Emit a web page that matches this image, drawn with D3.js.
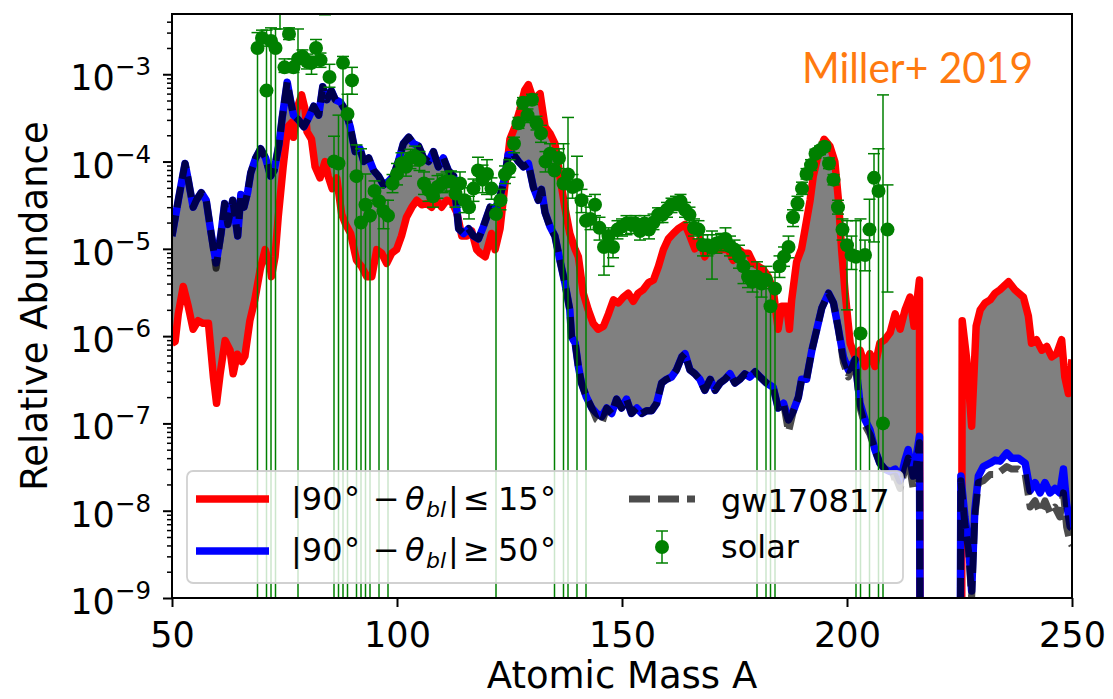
<!DOCTYPE html>
<html><head><meta charset="utf-8">
<script src="https://cdn.jsdelivr.net/npm/d3@7"></script>
<style>body{margin:0;background:#fff}</style>
</head><body>
<svg id="chart" width="1113" height="699"></svg>
<script>
// ---------------- DATA ----------------
const redA = [50.0,50.7,51.4,52.5,53.6,54.7,55.8,56.9,58.1,59.2,59.9,60.7,61.8,62.9,63.6,64.5,65.5,66.2,67.3,68.4,69.6,70.7,71.8,72.1,72.9,73.6,74.7,75.7,76.6,77.0,77.7,78.8,79.6,80.0,81.0,81.8,82.9,84.0,84.7,85.6,86.6,87.7,88.6,89.7,91.0,92.1,93.3,94.4,95.5,96.6,97.7,98.8,99.9,101.0,102.1,103.3,104.4,105.5,106.6,107.7,108.8,109.9,111.0,112.1,113.3,114.4,115.5,116.6,117.7,118.5,119.6,121.0,121.8,122.9,124.0,125.1,126.2,127.3,128.4,129.2,130.3,131.8,132.9,134.0,135.1,136.2,137.3,138.4,139.6,140.3,141.4,142.5,143.6,144.7,145.9,147.0,148.1,149.2,150.3,151.4,152.5,153.6,154.7,155.9,157.0,158.1,159.2,160.3,161.4,162.5,164.0,165.1,166.2,167.3,168.4,169.2,170.3,171.4,172.5,173.6,174.7,175.9,177.0,178.1,179.2,180.3,181.4,182.5,183.6,184.7,185.5,186.6,187.2,187.7,188.8,189.9,190.7,191.8,192.5,193.6,194.9,196.2,197.3,198.1,198.8,199.6,200.7,201.8,202.9,204.0,205.1,206.2,207.3,208.4,209.6,210.7,211.8,212.9,214.0,214.9,216.1,216.3,220,225.4,225.6,226.6,227.7,228.7,229.6,230.7,231.8,232.9,234.0,235.9,237.3,239.2,240.3,241.0,242.1,243.3,244.4,245.5,246.6,247.7,248.4,249.2,250.0];
const redVals = [8.3e-7,8.7e-7,1.8e-6,3.7e-6,2.2e-6,1.2e-6,1.5e-6,1.4e-6,1.4e-6,3.4e-7,1.7e-7,3.7e-7,8.9e-7,6.9e-7,3.7e-7,6.2e-7,5.1e-7,5.9e-7,1.5e-6,2.6e-6,5.8e-6,9.8e-6,6.3e-6,4.8e-6,8.1e-6,2.3e-5,8.7e-5,2.5e-4,2.8e-4,1.9e-4,3.9e-4,5.8e-4,3.9e-4,2.2e-4,1.8e-4,8.7e-5,6.5e-5,1.0e-4,6.8e-5,4.9e-5,6.5e-5,2.5e-5,1.9e-5,1.5e-5,7.4e-6,6.3e-6,4.8e-6,4.8e-6,9.8e-6,8.9e-6,6.8e-6,8.9e-6,9.8e-6,1.4e-5,2.3e-5,3.0e-5,3.6e-5,3.2e-5,3.3e-5,3.0e-5,3.6e-5,3.0e-5,3.6e-5,3.5e-5,2.6e-5,1.4e-5,1.4e-5,1.6e-5,9.8e-6,8.9e-6,8.1e-6,1.5e-5,9.8e-6,1.7e-5,5.6e-5,1.8e-4,2.5e-4,3.9e-4,6.6e-4,7.6e-4,5.1e-4,6.0e-4,2.5e-4,2.1e-4,1.6e-4,6.8e-5,3.0e-5,1.5e-5,9.8e-6,8.1e-6,3.1e-6,2.0e-6,1.4e-6,1.2e-6,1.3e-6,1.8e-6,2.6e-6,2.4e-6,2.8e-6,3.1e-6,2.5e-6,3.1e-6,3.4e-6,4.1e-6,4.4e-6,6.3e-6,9.8e-6,1.3e-5,1.5e-5,1.7e-5,1.9e-5,1.4e-5,1.0e-5,1.3e-5,8.1e-6,1.0e-5,1.0e-5,9.8e-6,9.8e-6,9.8e-6,7.4e-6,9.8e-6,8.9e-6,8.9e-6,6.8e-6,6.3e-6,5.8e-6,4.8e-6,3.4e-6,1.2e-6,2.2e-6,2.2e-6,1.2e-6,2.6e-6,7.1e-6,1.0e-5,1.7e-5,3.6e-5,6.8e-5,1.2e-4,1.8e-4,1.5e-4,1.0e-4,3.6e-5,9.8e-6,3.1e-6,8.3e-7,5.8e-7,6.9e-7,4.5e-7,6.3e-7,4.5e-7,8.3e-7,9.1e-7,1.1e-6,1.8e-6,1.2e-6,2.0e-6,2.8e-6,1.3e-6,4.4e-6,1e-12,null,1e-12,1.5e-6,5.4e-7,9.3e-8,1.3e-6,2.0e-6,2.4e-6,2.6e-6,3.1e-6,3.4e-6,4.2e-6,3.4e-6,2.8e-6,1.7e-6,8.3e-7,9.1e-7,6.9e-7,7.6e-7,5.8e-7,6.3e-7,9.1e-7,3.4e-7,2.2e-7,5.4e-7];

const blueA = [50,51.4,52.9,53.6,54.7,55.4,56.5,57.6,58.7,59.8,60.9,61.7,62.4,63.5,64.6,65.3,66.0,66.8,67.5,68.6,69.7,70.8,71.9,72.7,73.8,74.5,75.6,76.3,77.0,78.1,79.3,80.4,81.5,82.6,83.5,84.4,85.4,86.3,87.4,88.5,89.6,90.7,91.8,92.6,93.7,94.8,95.9,97.0,98.1,99.2,100.3,101.4,102.6,103.7,104.8,105.9,107.0,108.1,109.2,110.3,111.4,112.6,113.7,114.8,115.9,117.0,118.1,119.2,120.7,121.8,122.9,124.0,124.7,125.9,127.0,128.1,129.2,130.3,131.4,132.1,132.9,134.0,135.1,136.2,137.3,138.4,138.8,139.6,140.3,141.0,142.1,143.3,144.4,145.5,146.6,147.7,148.8,149.9,151.0,152.1,153.3,154.4,155.5,156.6,157.7,158.8,159.9,161.0,162.1,163.3,164.0,165.1,166.2,167.3,168.4,169.6,170.7,171.8,172.9,174.0,175.1,176.2,177.3,178.4,179.6,180.7,182.1,183.6,184.7,185.9,187.0,188.1,189.2,189.9,191.0,192.2,193.3,194.4,195.9,197.0,198.1,199.2,200.3,201.8,202.9,204.0,205.1,206.2,207.3,208.4,209.6,210.7,211.8,212.9,213.6,214.7,216.1,216.4,220,225.0,225.3,226.2,227.0,227.7,228.4,229.2,230.3,231.8,232.9,234.0,235.5,236.6,238.1,239.6,240.7,241.8,242.9,244.0,245.1,246.2,247.3,248.1,248.8,249.6,250];
const blueVals = [1.4e-5,3.6e-5,9.5e-5,6.2e-5,3.0e-5,3.6e-5,4.4e-5,3.6e-5,1.5e-5,6.9e-6,1.5e-5,3.3e-5,1.9e-5,3.6e-5,1.4e-5,4.2e-5,3.0e-5,4.4e-5,7.4e-5,1.1e-4,1.4e-4,1.1e-4,6.8e-5,7.9e-5,1.6e-4,3.2e-4,8.1e-4,5.1e-4,3.4e-4,3.0e-4,2.5e-4,3.2e-4,4.3e-4,3.4e-4,7.2e-4,5.1e-4,6.5e-4,5.1e-4,4.8e-4,3.9e-4,2.5e-4,1.3e-4,1.4e-4,1.0e-4,1.1e-4,7.9e-5,6.8e-5,5.4e-5,5.9e-5,6.8e-5,1.0e-4,1.6e-4,1.9e-4,1.6e-4,1.5e-4,1.1e-4,1.0e-4,1.3e-4,8.7e-5,1.1e-4,7.9e-5,6.8e-5,1.7e-5,1.5e-5,1.7e-5,1.4e-5,1.3e-5,1.8e-5,3.0e-5,2.8e-5,4.0e-5,6.8e-5,1.2e-4,1.2e-4,1.0e-4,8.7e-5,9.5e-5,5.1e-5,3.6e-5,4.8e-5,2.6e-5,1.8e-5,1.4e-5,7.4e-6,4.1e-6,2.0e-6,9.8e-7,8.3e-7,4.5e-7,2.9e-7,2.0e-7,1.5e-7,1.3e-7,1.2e-7,1.5e-7,1.3e-7,1.9e-7,1.5e-7,1.9e-7,1.3e-7,1.5e-7,1.3e-7,1.4e-7,1.4e-7,1.7e-7,2.9e-7,3.2e-7,3.4e-7,4.1e-7,5.8e-7,6.3e-7,4.1e-7,3.7e-7,3.2e-7,2.4e-7,3.2e-7,2.4e-7,2.9e-7,3.2e-7,3.7e-7,2.9e-7,3.2e-7,3.7e-7,3.4e-7,3.9e-7,3.4e-7,2.9e-7,2.6e-7,1.5e-7,1.7e-7,1.1e-7,1.4e-7,2.0e-7,3.2e-7,3.2e-7,6.9e-7,1.2e-6,2.1e-6,3.1e-6,2.4e-6,1.2e-6,5.8e-7,4.1e-7,5.4e-7,1.7e-7,1.1e-7,8.5e-8,5.0e-8,3.5e-8,3.0e-8,2.8e-8,3.0e-8,2.2e-8,3.8e-8,5.0e-8,2.5e-8,7.1e-8,1e-12,null,1e-12,2.5e-8,8.5e-9,4.3e-9,1.2e-9,1.0e-8,2.5e-8,3.2e-8,3.5e-8,3.8e-8,3.7e-8,4.6e-8,4.0e-8,4.0e-8,3.5e-8,1.7e-8,2.1e-8,1.6e-8,2.1e-8,1.6e-8,1.8e-8,1.6e-8,3.0e-8,1.2e-8,6.6e-9,6.3e-9];
const gwVals = [1.4e-5,3.6e-5,9.5e-5,6.2e-5,3.0e-5,3.6e-5,4.4e-5,3.6e-5,1.5e-5,6.0e-6,1.5e-5,3.3e-5,1.9e-5,3.6e-5,1.4e-5,4.2e-5,3.0e-5,4.4e-5,7.4e-5,1.1e-4,1.4e-4,1.1e-4,6.8e-5,7.9e-5,1.6e-4,3.2e-4,8.1e-4,5.1e-4,3.4e-4,3.0e-4,2.5e-4,3.2e-4,4.3e-4,3.4e-4,7.2e-4,5.1e-4,6.5e-4,5.1e-4,4.8e-4,3.9e-4,2.5e-4,1.3e-4,1.4e-4,1.0e-4,1.1e-4,7.9e-5,6.8e-5,5.4e-5,5.9e-5,6.8e-5,1.0e-4,1.6e-4,1.9e-4,1.6e-4,1.5e-4,1.1e-4,1.0e-4,1.3e-4,8.7e-5,1.1e-4,7.9e-5,6.8e-5,1.7e-5,1.5e-5,1.7e-5,1.4e-5,1.3e-5,1.8e-5,3.0e-5,2.8e-5,4.0e-5,6.8e-5,1.2e-4,1.2e-4,1.0e-4,8.7e-5,9.5e-5,5.1e-5,3.6e-5,4.8e-5,2.6e-5,1.8e-5,1.4e-5,7.4e-6,4.1e-6,2.0e-6,9.8e-7,8.3e-7,4.5e-7,2.9e-7,2.0e-7,1.5e-7,1.1e-7,1.0e-7,1.5e-7,1.3e-7,1.9e-7,1.5e-7,1.9e-7,1.3e-7,1.5e-7,1.3e-7,1.4e-7,1.4e-7,1.7e-7,2.9e-7,3.2e-7,3.4e-7,4.1e-7,5.8e-7,6.3e-7,4.1e-7,3.7e-7,3.2e-7,2.4e-7,3.2e-7,2.4e-7,2.9e-7,3.2e-7,3.7e-7,2.9e-7,3.2e-7,3.7e-7,3.4e-7,3.9e-7,3.4e-7,2.9e-7,2.6e-7,1.5e-7,1.7e-7,8.0e-8,1.4e-7,2.0e-7,3.2e-7,3.2e-7,6.9e-7,1.2e-6,2.1e-6,3.1e-6,2.4e-6,1.2e-6,5.0e-7,3.4e-7,5.4e-7,1.5e-7,9.5e-8,7.5e-8,5.0e-8,3.5e-8,3.0e-8,2.4e-8,2.5e-8,1.8e-8,3.0e-8,4.0e-8,1.8e-8,6.0e-8,1e-12,null,1e-12,2.2e-8,7.0e-9,3.5e-9,1.0e-9,8.5e-9,2.1e-8,2.2e-8,2.6e-8,2.6e-8,2.8e-8,3.2e-8,3.0e-8,3.0e-8,2.6e-8,1.1e-8,1.3e-8,9.5e-9,1.3e-8,9.5e-9,1.1e-8,8.5e-9,1.6e-8,6.5e-9,4.3e-9,4.0e-9];

const solarA = [69,70,71,72,73,74,75,76,77,78,79,80,81,82,83,84,85,86,87,88,89,90,91,92,93,94,95,96,97,98,99,100,101,102,103,104,105,106,107,108,109,110,111,112,113,114,115,116,117,118,119,120,121,122,123,124,125,126,127,128,129,130,131,132,133,134,135,136,137,138,139,140,141,142,143,144,145,146,147,148,149,150,151,152,153,154,155,156,157,158,159,160,161,162,163,164,165,166,167,168,169,170,171,172,173,174,175,176,177,178,179,180,181,182,183,184,185,186,187,188,189,190,191,192,193,194,195,196,197,198,199,200,201,202,203,204,205,206,207,208,209];
const solarVals = [2.0e-3,2.6e-3,6.5e-4,2.4e-3,2.0e-3,7.9e-3,1.2e-3,2.9e-3,1.2e-3,1.5e-3,1.6e-3,1.4e-3,1.35e-3,2.0e-3,1.45e-3,8.9e-3,9.3e-4,1.0e-4,9.5e-5,1.35e-3,3.5e-4,8.5e-4,6.8e-5,2.0e-5,3.2e-5,2.4e-5,4.6e-5,3.5e-5,2.7e-5,2.4e-5,5.6e-5,7.2e-5,9.5e-5,8.7e-5,1.1e-4,1.15e-4,1.05e-4,5.6e-5,4.7e-5,4.0e-5,5.1e-5,5.6e-5,5.9e-5,5.9e-5,4.3e-5,5.6e-5,3.6e-5,3.0e-5,4.9e-5,7.9e-5,6.2e-5,7.2e-5,4.9e-5,2.5e-5,3.6e-5,7.1e-5,8.3e-5,1.6e-4,2.75e-4,4.7e-4,3.4e-4,5.1e-4,2.75e-4,2.1e-4,1.0e-4,1.23e-4,7.9e-5,1.1e-4,5.6e-5,7.1e-5,5.1e-5,5.4e-5,3.6e-5,2.1e-5,2.2e-5,3.2e-5,1.74e-5,1.05e-5,1.4e-5,1.05e-5,1.66e-5,1.8e-5,1.95e-5,1.9e-5,1.95e-5,1.6e-5,1.95e-5,1.66e-5,2.0e-5,2.45e-5,2.45e-5,2.8e-5,3.2e-5,3.3e-5,3.5e-5,2.8e-5,2.45e-5,1.74e-5,1.66e-5,1.1e-5,1.1e-5,1.02e-5,1.15e-5,1.2e-5,1.3e-5,1.07e-5,9.8e-6,8.1e-6,6.3e-6,4.8e-6,4.2e-6,4.8e-6,4.0e-6,4.4e-6,2.2e-6,3.5e-6,6.3e-6,8.1e-6,1.05e-5,2.3e-5,3.3e-5,4.9e-5,7.2e-5,9.1e-5,1.23e-4,1.35e-4,1.48e-4,9.5e-5,6.2e-5,3.0e-5,1.66e-5,1.1e-5,8.5e-6,8.1e-6,1.07e-6,8.5e-6,1.66e-5,6.5e-5,4.6e-5,1.0e-7,1.66e-5];
const solarHi = [3.0e-3,3.2e-3,3.2e-3,3.4e-3,3.3e-3,1.1e-2,1.5e-3,3.4e-3,1.5e-3,3.3e-3,1.9e-3,1.7e-3,1.6e-3,2.5e-3,1.75e-3,1.3e-2,1.3e-3,1.95e-4,3.4e-4,1.6e-3,5.9e-4,1.2e-3,1.55e-4,1.4e-4,7.2e-5,3.6e-5,6.0e-5,5.0e-5,3.6e-5,3.6e-5,7.1e-5,9.5e-5,1.26e-4,1.12e-4,1.38e-4,1.5e-4,1.3e-4,7.6e-5,6.3e-5,5.0e-5,6.9e-5,7.2e-5,7.6e-5,7.8e-5,6.0e-5,7.6e-5,5.0e-5,4.0e-5,6.3e-5,1.12e-4,9.1e-5,1.05e-4,6.5e-5,3.2e-5,4.8e-5,8.9e-5,1.05e-4,1.9e-4,3.2e-4,5.4e-4,4.0e-4,5.9e-4,3.3e-4,2.6e-4,1.3e-4,1.6e-4,1.2e-4,1.4e-4,1.6e-4,3.2e-4,7.1e-5,1.15e-4,4.8e-5,4.0e-5,3.0e-5,4.2e-5,2.3e-5,1.6e-5,1.74e-5,1.4e-5,2.1e-5,2.2e-5,2.4e-5,2.3e-5,2.4e-5,2.0e-5,2.4e-5,2.1e-5,2.5e-5,2.95e-5,2.95e-5,3.4e-5,3.8e-5,4.0e-5,4.2e-5,3.4e-5,3.0e-5,2.2e-5,2.1e-5,1.45e-5,1.45e-5,1.6e-5,1.45e-5,1.5e-5,1.74e-5,1.4e-5,1.26e-5,1.1e-5,8.3e-6,6.3e-6,5.6e-6,7.1e-6,5.2e-6,6.3e-6,3.5e-6,5.4e-6,8.3e-6,1.05e-5,1.4e-5,2.8e-5,4.0e-5,5.8e-5,8.3e-5,1.05e-4,1.38e-4,1.5e-4,1.66e-4,1.1e-4,7.1e-5,3.6e-5,2.2e-5,2.1e-5,1.4e-5,2.1e-5,2.2e-5,1.26e-5,3.7e-5,1.23e-4,1.4e-4,5.8e-4,5.4e-5];
// lower bound of each error bar; 0 = bar extends below the axis
const solarLo = [0,2.1e-3,0,0,0,3.3e-3,1.05e-3,2.5e-3,1.05e-3,0,1.3e-3,1.15e-3,1.0e-3,1.6e-3,1.2e-3,4.8e-3,7.1e-4,0,0,0,0,5.9e-4,0,0,0,0,3.3e-5,0,1.7e-5,0,4.4e-5,5.4e-5,7.6e-5,6.8e-5,8.3e-5,8.9e-5,7.9e-5,4.2e-5,3.5e-5,3.0e-5,3.8e-5,4.4e-5,4.6e-5,4.5e-5,3.0e-5,4.0e-5,2.6e-5,2.2e-5,3.5e-5,6.0e-5,4.4e-5,4.2e-5,3.7e-5,0,2.8e-5,5.6e-5,6.6e-5,1.26e-4,2.4e-4,4.0e-4,2.8e-4,4.5e-4,2.3e-4,1.66e-4,7.6e-5,9.5e-5,0,8.3e-5,0,0,3.8e-5,0,2.6e-5,0,1.66e-5,2.4e-5,1.26e-5,5.0e-6,6.3e-6,7.9e-6,1.3e-5,1.4e-5,1.45e-5,1.5e-5,1.6e-5,1.26e-5,1.6e-5,1.3e-5,1.66e-5,2.0e-5,2.0e-5,2.3e-5,2.6e-5,2.75e-5,2.9e-5,2.3e-5,2.0e-5,1.4e-5,1.3e-5,8.3e-6,8.3e-6,4.5e-6,8.9e-6,9.5e-6,1.0e-5,8.3e-6,7.6e-6,6.0e-6,4.0e-6,3.6e-6,3.2e-6,0,2.8e-6,0,0,0,4.7e-6,6.3e-6,7.9e-6,1.8e-5,2.75e-5,4.2e-5,6.3e-5,7.9e-5,1.1e-4,1.2e-4,1.32e-4,8.3e-5,5.4e-5,2.5e-5,1.26e-5,2.0e-6,5.8e-6,0,0,5.6e-6,0,1.2e-5,0,0,3.2e-6];

const xTicks = [50, 100, 150, 200, 250];
const yTickExps = [-9, -8, -7, -6, -5, -4, -3];
const legendLabels = ["gw170817", "solar"];

// ---------------- CHART ----------------
const M = {left:172, right:1072, top:14, bottom:598};
const x = d3.scaleLinear().domain([50, 250]).range([M.left, M.right]);
const y = d3.scaleLog().domain([1e-9, 4.9e-3]).range([M.bottom, M.top]);
const svg = d3.select('#chart');
const FONT = "'DejaVu Sans', sans-serif";

svg.append('defs').append('clipPath').attr('id','clip')
  .append('rect').attr('x',M.left).attr('y',M.top)
  .attr('width',M.right-M.left).attr('height',M.bottom-M.top);
const plot = svg.append('g').attr('clip-path','url(#clip)');

const toPts = (A,V) => A.map((a,i)=>({a:a, v:V[i]}));
function segments(p){
  const segs=[]; let cur=[];
  p.forEach(d=>{ if(d.v==null){ if(cur.length) segs.push(cur); cur=[]; } else cur.push(d); });
  if(cur.length) segs.push(cur);
  return segs;
}
const red = toPts(redA, redVals), blue = toPts(blueA, blueVals), gw = toPts(blueA, gwVals);
const line = d3.line().defined(d=>d.v!=null).x(d=>x(d.a)).y(d=>y(d.v));
const polyLine = d3.line().x(d=>x(d.a)).y(d=>y(d.v));

// gray band between the two curves
const rs = segments(red), bs = segments(blue);
rs.forEach((seg,i)=>{
  const poly = seg.concat(bs[i].slice().reverse());
  plot.append('path').attr('d', polyLine(poly)+'Z').attr('fill','#808080').attr('stroke','none');
});

plot.append('path').datum(red).attr('d',line).attr('fill','none')
  .attr('stroke','#ff0000').attr('stroke-width',7.5).attr('stroke-linejoin','round');
plot.append('path').datum(blue).attr('d',line).attr('fill','none')
  .attr('stroke','#0000ff').attr('stroke-width',7.5).attr('stroke-linejoin','round');
plot.append('path').datum(gw).attr('d',line).attr('fill','none')
  .attr('stroke','#000').attr('stroke-opacity',0.7).attr('stroke-width',7)
  .attr('stroke-dasharray','21,8').attr('stroke-linejoin','round');

// solar error bars + markers
const solar = solarA.map((a,i)=>({a:a, v:solarVals[i], hi:solarHi[i], lo:solarLo[i]}));
const eg = plot.append('g').attr('stroke','#008000').attr('stroke-width',1.5);
solar.forEach(d=>{
  const cx = x(d.a);
  const yTop = y(d.hi);
  const yBot = d.lo > 0 ? y(d.lo) : y.range()[0] + 5;
  eg.append('line').attr('x1',cx).attr('x2',cx).attr('y1',yTop).attr('y2',yBot);
  eg.append('line').attr('x1',cx-6).attr('x2',cx+6).attr('y1',yTop).attr('y2',yTop);
  if(d.lo > 0) eg.append('line').attr('x1',cx-6).attr('x2',cx+6).attr('y1',yBot).attr('y2',yBot);
});
plot.append('g').selectAll('circle').data(solar).join('circle')
  .attr('cx',d=>x(d.a)).attr('cy',d=>y(d.v)).attr('r',7).attr('fill','#008000');

// axes
const xAxis = svg.append('g').attr('transform',`translate(0,${M.bottom})`)
  .call(d3.axisBottom(x).tickValues(xTicks).tickSize(9).tickFormat(d3.format('d')));
xAxis.select('.domain').remove();
xAxis.selectAll('line').attr('stroke','#000').attr('stroke-width',2);
xAxis.selectAll('text').attr('dy',null).attr('y',49)
  .attr('font-family',FONT).attr('font-size',35).attr('fill','#000');

const majors = yTickExps.map(e=>Math.pow(10,e));
const minors = [];
[-10,-9,-8,-7,-6,-5,-4,-3].forEach(e=>{ for(let m=2;m<=9;m++){ const v=m*Math.pow(10,e); if(v>=y.domain()[0] && v<=y.domain()[1]) minors.push(v);} });
const yAxisMin = svg.append('g').attr('transform',`translate(${M.left},0)`)
  .call(d3.axisLeft(y).tickValues(minors).tickSize(5).tickFormat(''));
yAxisMin.select('.domain').remove();
yAxisMin.selectAll('line').attr('stroke','#000').attr('stroke-width',1.5);
const yAxis = svg.append('g').attr('transform',`translate(${M.left},0)`)
  .call(d3.axisLeft(y).tickValues(majors).tickSize(9).tickFormat(''));
yAxis.select('.domain').remove();
yAxis.selectAll('line').attr('stroke','#000').attr('stroke-width',2);

const yl = svg.append('g');
yTickExps.forEach(e=>{
  const t = yl.append('text').attr('x',M.left-21).attr('y',y(Math.pow(10,e))+16)
    .attr('text-anchor','end').attr('font-family',FONT).attr('font-size',35).attr('fill','#000');
  t.append('tspan').text('10');
  t.append('tspan').attr('dy',-15).attr('font-size',24.5).text('\u2212'+Math.abs(e));
});

// spines
svg.append('rect').attr('x',M.left).attr('y',M.top).attr('width',M.right-M.left)
  .attr('height',M.bottom-M.top).attr('fill','none').attr('stroke','#000').attr('stroke-width',2);

// axis titles
svg.append('text').attr('x',(M.left+M.right)/2).attr('y',688).attr('text-anchor','middle')
  .attr('font-family',FONT).attr('font-size',37).attr('fill','#000').text('Atomic Mass A');
svg.append('text').attr('transform',`translate(47,${(M.top+M.bottom)/2}) rotate(-90)`)
  .attr('text-anchor','middle').attr('font-family',FONT).attr('font-size',37).attr('fill','#000')
  .text('Relative Abundance');

// annotation
svg.append('text').attr('x',802).attr('y',83).attr('textLength',231).attr('lengthAdjust','spacingAndGlyphs')
  .attr('font-family',"'Lato', 'Open Sans', sans-serif").attr('font-size',42).attr('fill','#ff7a0f')
  .text('Miller+ 2019');

// legend
const lg = svg.append('g');
lg.append('rect').attr('x',187).attr('y',471).attr('width',716).attr('height',112).attr('rx',6)
  .attr('fill','#fff').attr('fill-opacity',0.8).attr('stroke','#cccccc').attr('stroke-opacity',0.9).attr('stroke-width',1.8);
lg.append('line').attr('x1',196).attr('x2',269).attr('y1',499).attr('y2',499).attr('stroke','#ff0000').attr('stroke-width',7.5);
lg.append('line').attr('x1',196).attr('x2',269).attr('y1',551).attr('y2',551).attr('stroke','#0000ff').attr('stroke-width',7.5);
function mathLabel(base, rel, num){
  const g = lg.append('g').attr('font-family',FONT).attr('fill','#000');
  const add = (tx, xx, dy, size, italic) => g.append('text').attr('x',xx).attr('y',base+dy)
    .attr('font-size',size).attr('font-style',italic?'italic':null).text(tx);
  add('|90', 291, 0, 32);
  add('\u00b0', 344, 0, 32);
  add('\u2212', 373, 0, 32);
  add('\u03b8', 405, 0, 32, true);
  add('bl', 426, 7, 22, true);
  add('|', 448, 0, 32);
  add(rel, 463, 0, 32);
  add(num, 498, 0, 32);
  add('\u00b0', 540, 0, 32);
}
mathLabel(510, '\u2264', '15');
mathLabel(561, '\u2265', '50');
lg.append('line').attr('x1',629).attr('x2',695).attr('y1',499).attr('y2',499)
  .attr('stroke','#000').attr('stroke-opacity',0.7).attr('stroke-width',7).attr('stroke-dasharray','21,8');
lg.append('text').attr('x',721).attr('y',512).attr('font-family',FONT).attr('font-size',32).attr('fill','#000').text(legendLabels[0]);
const sg = lg.append('g').attr('stroke','#008000').attr('stroke-width',1.5);
sg.append('line').attr('x1',662).attr('x2',662).attr('y1',531).attr('y2',563);
sg.append('line').attr('x1',656).attr('x2',668).attr('y1',531).attr('y2',531);
sg.append('line').attr('x1',656).attr('x2',668).attr('y1',563).attr('y2',563);
lg.append('circle').attr('cx',662).attr('cy',547).attr('r',7).attr('fill','#008000');
lg.append('text').attr('x',721).attr('y',558).attr('font-family',FONT).attr('font-size',32).attr('fill','#000').text(legendLabels[1]);
</script>
</body></html>
